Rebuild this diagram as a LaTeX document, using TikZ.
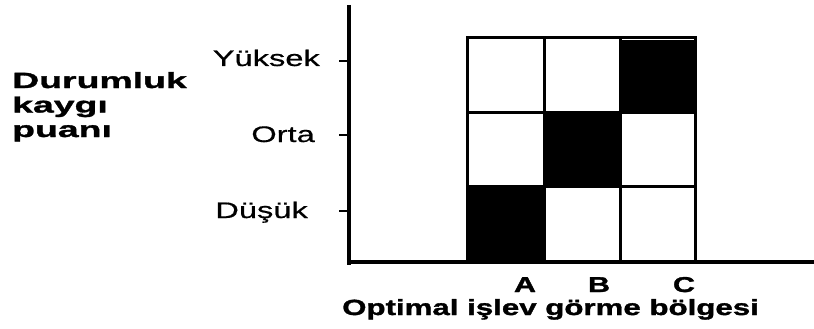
\documentclass[tikz,border=0pt]{standalone}
\usepackage{fontspec}
\setmainfont{Liberation Sans}
\newfontfamily\ticklab[FakeStretch=1.45,FakeBold=0.6]{Liberation Sans}
\newfontfamily\axislab[FakeStretch=1.42,FakeBold=1.5]{Liberation Sans Bold}
\newfontfamily\sidelab[FakeStretch=1.7,FakeBold=1.5]{Liberation Sans Bold}
\begin{document}
\begin{tikzpicture}[x=1pt,y=-1pt,
  axisline/.style={line width=3.2pt},
  gridline/.style={line width=3pt},
  tickline/.style={line width=2.6pt},
  level/.style={anchor=base east,inner sep=0pt,font=\ticklab\fontsize{22.5}{24}\selectfont},
  zone/.style={anchor=base,inner sep=0pt,font=\axislab\fontsize{21.5}{22}\selectfont},
  title/.style={inner sep=0pt,font=\axislab\fontsize{22}{24}\selectfont}]
\useasboundingbox (0,0) rectangle (814,329);

% axes
\coordinate (ytop) at (349,5);
\coordinate (origin) at (349,265);
\coordinate (xend) at (814,262);
\draw[axisline] (ytop) -- (origin);
\draw[axisline] (347,262) -- (xend);

% filled cells on the diagonal
\fill (467,186) rectangle (544,260);
\fill (544,112) rectangle (620,186);
\fill (620,40) rectangle (695,112);

% grid
\draw[gridline] (467,38) rectangle (695,262);
\draw[gridline] (467,112) -- (695,112);
\draw[gridline] (467,186) -- (695,186);
\draw[gridline] (544,38) -- (544,262);
\draw[gridline] (620,38) -- (620,262);

% level ticks and labels
\coordinate (t1) at (339,61);
\coordinate (t2) at (339,135);
\coordinate (t3) at (339,211);
\draw[tickline] (t1) -- (349,61);
\draw[tickline] (t2) -- (349,135);
\draw[tickline] (t3) -- (349,211);
\node[level] (yuksek) at (320,66) {Yüksek};
\node[level] (orta) at (315,142) {Orta};
\node[level] (dusuk) at (308,218) {Düşük};

% vertical axis title (base anchor sits on the last line)
\node[anchor=base west,inner sep=0pt,font=\sidelab\fontsize{22}{24.5}\selectfont,align=left] (ylab) at (12,137)
  {Durumluk\\kaygı\\puanı};

% zone letters and horizontal axis title
\node[zone] (za) at (525,292) {A};
\node[zone] (zb) at (599,292) {B};
\node[zone] (zc) at (684,292) {C};
\node[title,anchor=base west] (xlab) at (342,315) {Optimal işlev görme bölgesi};
\end{tikzpicture}
\end{document}
